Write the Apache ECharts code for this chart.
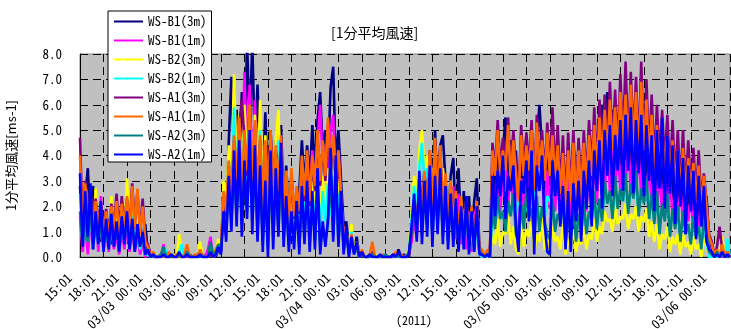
<!DOCTYPE html>
<html>
<head>
<meta charset="utf-8">
<script src="https://cdn.jsdelivr.net/npm/echarts@6/dist/echarts.min.js"></script>
<style>
  html, body { margin: 0; padding: 0; background: #fff; }
  #chart { width: 731px; height: 329px; }
</style>
</head>
<body>
<div id="chart"></div>
<script>
// 1-minute mean wind speed, sampled here every 20 minutes from 2011-03-02 15:01
const STEP_MIN = 20;
const TICK_MIN = 180;
const X_MAX = 4980;

const tickLabels = [
  '15:01', '18:01', '21:01', '03/03 00:01', '03:01', '06:01', '09:01', '12:01', '15:01', '18:01', '21:01',
  '03/04 00:01', '03:01', '06:01', '09:01', '12:01', '15:01', '18:01', '21:01',
  '03/05 00:01', '03:01', '06:01', '09:01', '12:01', '15:01', '18:01', '21:01', '03/06 00:01'
];

const seriesNames = ['WS-B1(3m)', 'WS-B1(1m)', 'WS-B2(3m)', 'WS-B2(1m)', 'WS-A1(3m)', 'WS-A1(1m)', 'WS-A2(3m)', 'WS-A2(1m)'];
const seriesColors = ['#000080', '#FF00FF', '#FFFF00', '#00FFFF', '#800080', '#FF6600', '#008080', '#0000FF'];

const wsB1_3m = [
  2.8, 0.9, 2.4, 3.5, 1.2, 2.8, 0.8, 1.8, 0.6, 1.6,
  0.7, 1.5, 0.5, 1.6, 0.8, 1.8, 0.6, 1.5, 0.9, 1.7,
  1.0, 1.9, 0.6, 1.5, 0.4, 1.3, 0.2, 0.1, 0.0, 0.0,
  0.0, 0.1, 0.0, 0.0, 0.0, 0.0, 0.1, 0.0, 0.0, 0.0,
  0.0, 0.0, 0.1, 0.0, 0.0, 0.0, 0.0, 0.1, 0.0, 0.0,
  0.1, 0.2, 0.0, 0.3, 0.2, 2.8, 1.5, 4.6, 7.1, 3.5,
  5.8, 3.2, 6.5, 4.0, 8.5, 5.0, 8.5, 4.2, 6.8, 3.6,
  3.0, 5.7, 2.6, 5.0, 2.8, 4.6, 3.0, 5.2, 2.2, 3.6,
  1.5, 2.8, 1.8, 2.4, 2.6, 4.6, 2.8, 4.4, 3.0, 5.2,
  3.5, 5.4, 6.5, 4.2, 5.0, 3.8, 6.7, 7.5, 3.6, 5.0,
  3.0, 1.2, 1.4, 0.4, 0.9, 0.3, 0.8, 0.0, 0.2, 0.0,
  0.0, 0.0, 0.1, 0.0, 0.0, 0.0, 0.0, 0.0, 0.0, 0.0,
  0.1, 0.0, 0.3, 0.0, 0.1, 0.0, 0.0, 0.8, 1.9, 1.2,
  3.2, 1.6, 3.6, 2.0, 4.2, 2.2, 5.0, 2.4, 4.4, 4.8,
  3.0, 1.4, 3.2, 3.9, 1.2, 3.5, 1.0, 2.6, 0.8, 2.4,
  0.6, 2.2, 3.1, 0.4, 0.2, 0.0, 0.1, 0.0, 3.8, 2.5,
  4.4, 2.8, 4.2, 5.5, 3.0, 4.6, 2.5, 4.2, 1.5, 4.0,
  2.6, 4.8, 2.8, 4.4, 2.0, 4.6, 6.0, 4.2, 2.5, 4.4,
  2.8, 4.6, 2.6, 4.2, 2.2, 4.0, 2.0, 4.3, 2.4, 4.6,
  2.2, 4.0, 2.4, 4.4, 2.6, 4.8, 2.8, 5.0, 3.0, 5.6,
  6.0, 3.2, 6.5, 3.4, 5.8, 3.2, 5.6, 3.6, 5.9, 3.8,
  6.0, 3.6, 5.8, 3.4, 5.5, 3.2, 5.2, 3.0, 4.8, 2.6,
  4.5, 2.6, 4.4, 2.4, 4.6, 2.2, 4.0, 2.2, 3.8, 2.0,
  3.8, 1.8, 3.6, 1.9, 3.3, 1.6, 3.2, 1.4, 2.8, 1.2,
  2.4, 0.6, 0.4, 0.0, 0.2, 0.0, 0.1, 0.0, 0.1, 0.0
];

const wsB1_1m = [
  1.6, 0.2, 1.2, 0.1, 1.5, 0.3, 2.0, 0.2, 2.4, 0.4,
  1.0, 0.2, 1.2, 0.3, 0.9, 0.1, 1.1, 0.3, 1.3, 0.2,
  1.1, 0.2, 0.9, 0.1, 0.6, 0.0, 0.1, 0.0, 0.0, 0.0,
  0.0, 0.0, 0.5, 0.0, 0.0, 0.0, 0.0, 0.0, 0.1, 0.0,
  0.0, 0.0, 0.0, 0.0, 0.0, 0.0, 0.1, 0.0, 0.0, 0.3,
  0.8, 0.0, 0.1, 0.6, 0.2, 2.0, 1.2, 3.4, 1.8, 6.7,
  2.6, 5.0, 3.0, 7.3, 3.6, 6.8, 3.0, 6.2, 2.6, 5.2,
  2.0, 4.2, 1.5, 4.8, 2.0, 4.0, 2.4, 4.6, 1.4, 3.0,
  1.0, 2.4, 1.4, 2.2, 1.8, 3.6, 2.0, 3.8, 2.2, 4.2,
  2.6, 4.6, 6.0, 3.6, 4.4, 3.2, 5.0, 5.6, 3.0, 4.2,
  2.2, 0.8, 1.0, 0.2, 0.6, 0.1, 0.4, 0.0, 0.1, 0.0,
  0.0, 0.0, 0.0, 0.0, 0.0, 0.0, 0.0, 0.0, 0.0, 0.0,
  0.0, 0.0, 0.1, 0.0, 0.0, 0.0, 0.1, 0.6, 1.4, 0.8,
  2.6, 1.0, 3.0, 1.3, 3.5, 1.5, 3.9, 1.6, 3.6, 1.4,
  2.6, 0.9, 2.4, 2.8, 0.7, 2.5, 0.5, 1.9, 0.3, 1.8,
  0.2, 1.6, 2.0, 0.1, 0.0, 0.0, 0.0, 0.0, 3.0, 1.8,
  3.4, 1.8, 3.3, 4.0, 2.0, 3.6, 1.8, 3.2, 0.5, 3.1,
  1.8, 3.8, 2.0, 3.4, 1.2, 3.6, 4.2, 3.2, 1.6, 3.4,
  1.9, 3.6, 1.8, 3.3, 1.5, 3.1, 1.3, 3.4, 1.6, 3.5,
  1.5, 3.1, 1.6, 3.4, 1.8, 3.7, 2.0, 3.9, 2.1, 4.3,
  4.6, 2.3, 4.9, 2.5, 4.5, 2.4, 4.3, 2.6, 4.6, 2.7,
  4.7, 2.6, 4.5, 2.5, 4.2, 2.4, 4.0, 2.2, 3.7, 1.9,
  3.4, 1.9, 3.3, 1.7, 3.5, 1.6, 3.0, 1.6, 2.8, 1.4,
  2.8, 1.3, 2.7, 1.4, 2.4, 1.1, 2.4, 1.0, 2.0, 0.8,
  1.7, 0.3, 0.2, 0.0, 0.1, 0.0, 0.0, 0.0, 0.0, 0.0
];

const wsB2_3m = [
  2.2, 0.6, 1.8, 0.9, 2.0, 0.5, 2.7, 0.8, 1.6, 0.4,
  1.4, 0.5, 2.4, 0.7, 1.6, 0.6, 1.5, 0.8, 3.1, 0.9,
  2.2, 0.6, 1.8, 0.5, 1.0, 0.2, 0.2, 0.0, 0.0, 0.0,
  0.0, 0.0, 0.0, 0.2, 0.0, 0.0, 0.1, 0.0, 0.9, 0.0,
  0.0, 0.5, 0.0, 0.0, 0.0, 0.1, 0.6, 0.0, 0.0, 0.0,
  0.3, 0.0, 0.2, 0.7, 0.4, 3.0, 2.2, 4.4, 3.0, 7.2,
  3.5, 5.6, 3.0, 6.0, 3.6, 5.4, 3.2, 5.6, 2.8, 6.2,
  2.2, 4.8, 1.8, 4.4, 2.4, 4.6, 5.8, 3.0, 1.8, 3.4,
  1.2, 2.8, 1.4, 2.6, 1.6, 3.4, 2.0, 3.6, 1.8, 3.2,
  1.6, 3.8, 1.4, 3.2, 1.8, 3.5, 2.0, 3.8, 1.7, 3.0,
  1.6, 0.8, 1.0, 0.4, 1.3, 0.2, 0.6, 0.1, 0.3, 0.0,
  0.0, 0.0, 0.0, 0.1, 0.0, 0.0, 0.0, 0.0, 0.0, 0.0,
  0.0, 0.0, 0.1, 0.0, 0.0, 0.0, 0.3, 1.8, 3.2, 2.4,
  4.2, 5.0, 3.4, 4.0, 2.6, 3.5, 2.4, 3.0, 2.0, 3.5,
  2.6, 1.2, 3.0, 1.0, 2.4, 0.8, 2.2, 0.9, 2.0, 0.4,
  1.5, 0.3, 1.6, 0.1, 0.1, 0.0, 0.0, 0.0, 1.0, 0.5,
  1.5, 0.4, 1.0, 0.9, 1.7, 0.5, 1.2, 0.3, 0.1, 1.3,
  0.4, 1.1, 0.8, 1.5, 0.2, 0.9, 0.6, 1.6, 0.3, 0.7,
  0.2, 1.2, 0.6, 0.8, 0.3, 1.3, 0.1, 0.7, 0.4, 1.1,
  0.2, 0.7, 0.5, 1.2, 0.3, 0.9, 0.7, 1.5, 0.6, 1.2,
  0.9, 1.8, 1.4, 1.5, 1.0, 2.0, 1.3, 1.6, 1.5, 2.1,
  1.1, 1.7, 1.5, 2.0, 1.0, 1.6, 1.4, 1.9, 0.8, 1.4,
  0.6, 1.3, 0.3, 0.9, 0.7, 1.2, 0.2, 0.8, 0.5, 0.9,
  0.1, 0.9, 0.4, 0.6, 0.1, 0.8, 0.3, 0.5, 0.0, 0.7,
  0.4, 0.0, 0.0, 0.0, 0.3, 0.0, 0.8, 0.0, 0.2, 0.0
];

const wsB2_1m = [
  2.5, 0.4, 1.6, 0.6, 1.8, 0.3, 1.5, 0.5, 1.4, 0.3,
  1.2, 0.3, 1.5, 0.5, 1.3, 0.4, 1.2, 0.6, 2.0, 0.5,
  1.6, 0.4, 1.3, 0.3, 0.8, 0.1, 0.1, 0.0, 0.0, 0.0,
  0.0, 0.0, 0.0, 0.3, 0.0, 0.0, 0.0, 0.0, 0.2, 0.5,
  0.0, 0.2, 0.0, 0.0, 0.0, 0.0, 0.3, 0.0, 0.0, 0.0,
  0.2, 0.0, 0.1, 0.5, 0.3, 2.6, 1.8, 3.8, 2.4, 5.9,
  2.8, 4.8, 2.4, 5.2, 3.0, 4.6, 2.6, 4.8, 2.2, 5.0,
  1.6, 4.0, 1.2, 3.8, 1.8, 4.0, 4.6, 2.4, 1.2, 2.8,
  0.8, 2.2, 1.0, 2.0, 1.2, 2.8, 1.5, 3.0, 1.3, 2.6,
  1.2, 3.2, 1.0, 2.6, 1.4, 2.9, 1.6, 3.2, 1.3, 2.5,
  1.2, 0.5, 0.8, 0.3, 1.0, 0.1, 0.4, 0.0, 0.2, 0.0,
  0.0, 0.0, 0.0, 0.0, 0.0, 0.0, 0.0, 0.0, 0.0, 0.0,
  0.0, 0.0, 0.0, 0.0, 0.0, 0.0, 0.2, 1.5, 2.8, 2.0,
  3.6, 4.5, 3.0, 3.5, 2.2, 3.0, 2.0, 2.6, 1.8, 3.0,
  2.2, 1.0, 2.6, 0.8, 2.0, 0.6, 1.8, 0.7, 1.6, 0.3,
  1.2, 0.2, 1.3, 0.1, 0.0, 0.0, 0.0, 0.0, 1.7, 1.4,
  2.0, 1.6, 1.6, 1.3, 2.0, 1.7, 2.2, 1.2, 2.6, 1.8,
  1.3, 2.2, 1.6, 1.8, 2.8, 2.0, 1.3, 1.9, 1.5, 2.4,
  2.2, 2.0, 1.2, 1.6, 1.5, 1.9, 2.0, 1.5, 1.0, 1.8,
  0.9, 1.6, 1.1, 1.9, 1.1, 1.7, 1.6, 2.3, 1.3, 2.0,
  1.6, 2.6, 2.1, 2.4, 1.7, 2.8, 2.0, 2.5, 2.2, 2.9,
  1.9, 2.6, 2.3, 2.9, 1.8, 2.5, 2.2, 2.7, 1.7, 2.3,
  1.4, 2.3, 1.1, 1.9, 1.5, 2.2, 1.0, 1.8, 1.2, 1.8,
  0.8, 1.6, 1.0, 1.3, 0.7, 1.4, 0.9, 1.2, 0.5, 1.3,
  0.6, 0.0, 0.0, 0.1, 0.0, 0.0, 0.2, 0.0, 0.7, 0.0
];

const wsA1_3m = [
  4.7, 1.4, 3.0, 1.2, 2.7, 1.0, 2.3, 1.4, 2.1, 1.0,
  1.9, 0.8, 2.1, 1.1, 2.5, 1.0, 2.4, 1.3, 2.3, 1.1,
  2.9, 1.2, 2.6, 1.0, 2.3, 0.7, 0.5, 0.1, 0.1, 0.0,
  0.0, 0.0, 0.1, 0.0, 0.1, 0.0, 0.0, 0.0, 0.0, 0.0,
  0.0, 0.3, 0.0, 0.0, 0.0, 0.1, 0.2, 0.0, 0.0, 0.0,
  0.1, 0.0, 0.2, 0.4, 0.3, 2.4, 1.6, 3.6, 2.0, 4.6,
  2.8, 5.2, 6.2, 4.6, 3.2, 5.8, 2.8, 5.2, 2.2, 4.6,
  1.8, 4.4, 1.5, 4.8, 2.0, 4.2, 2.4, 4.6, 1.6, 3.2,
  1.1, 3.3, 1.5, 2.7, 1.7, 3.8, 2.2, 4.0, 2.0, 3.8,
  2.6, 4.8, 2.8, 4.4, 3.0, 5.2, 3.3, 4.6, 2.8, 4.0,
  2.2, 0.7, 0.9, 0.2, 0.8, 0.2, 0.4, 0.0, 0.2, 0.0,
  0.0, 0.0, 0.2, 0.0, 0.0, 0.0, 0.0, 0.0, 0.0, 0.0,
  0.0, 0.1, 0.0, 0.0, 0.0, 0.0, 0.1, 0.9, 1.8, 1.3,
  2.8, 1.5, 3.2, 1.7, 4.0, 1.9, 4.5, 2.0, 4.3, 1.7,
  3.1, 1.1, 2.9, 0.9, 2.5, 0.7, 2.3, 0.8, 2.2, 0.4,
  1.9, 0.3, 2.0, 0.2, 0.2, 0.0, 0.2, 0.0, 4.5, 3.4,
  5.4, 3.5, 4.7, 3.6, 5.5, 3.3, 5.0, 3.5, 2.4, 5.2,
  3.4, 4.9, 3.6, 5.4, 2.8, 5.6, 3.7, 5.0, 3.2, 5.3,
  3.4, 5.9, 3.2, 5.2, 2.7, 4.8, 2.0, 4.9, 2.4, 5.0,
  2.4, 4.7, 2.6, 5.0, 3.0, 5.4, 3.4, 5.9, 3.6, 6.2,
  4.0, 6.4, 4.2, 6.9, 4.4, 6.6, 4.2, 7.2, 4.6, 7.7,
  4.4, 7.3, 4.6, 7.1, 4.2, 7.7, 4.4, 7.0, 4.0, 6.4,
  3.6, 6.0, 3.8, 5.8, 3.7, 5.6, 3.2, 5.4, 3.0, 5.0,
  2.8, 5.0, 2.6, 4.6, 2.7, 4.3, 2.4, 4.2, 2.2, 3.3,
  2.2, 0.9, 0.6, 0.1, 0.4, 1.2, 0.3, 0.0, 0.2, 0.0
];

const wsA1_1m = [
  4.0, 1.2, 2.9, 1.0, 2.6, 0.8, 2.2, 1.3, 2.0, 0.9,
  1.8, 0.7, 2.0, 1.0, 2.2, 0.9, 2.1, 1.2, 2.4, 1.0,
  2.8, 1.1, 2.7, 0.9, 2.0, 0.6, 0.4, 0.1, 0.2, 0.0,
  0.0, 0.1, 0.0, 0.0, 0.2, 0.0, 0.0, 0.1, 0.0, 0.0,
  0.1, 0.5, 0.0, 0.0, 0.1, 0.0, 0.3, 0.0, 0.0, 0.0,
  0.2, 0.0, 0.3, 0.5, 0.4, 2.6, 1.8, 3.8, 2.2, 4.8,
  3.0, 5.5, 2.6, 5.0, 3.4, 6.0, 3.0, 5.4, 2.4, 4.8,
  2.0, 4.6, 1.6, 5.0, 2.2, 4.4, 2.6, 4.8, 1.8, 3.4,
  1.2, 3.5, 1.6, 2.8, 1.8, 4.0, 2.4, 4.2, 2.2, 4.0,
  2.8, 5.0, 3.0, 4.6, 3.2, 5.5, 3.5, 4.8, 3.0, 4.2,
  2.4, 0.8, 1.0, 0.3, 0.9, 0.2, 0.5, 0.0, 0.3, 0.0,
  0.0, 0.1, 0.6, 0.0, 0.0, 0.0, 0.1, 0.0, 0.0, 0.0,
  0.0, 0.2, 0.0, 0.1, 0.0, 0.0, 0.2, 1.0, 2.0, 1.4,
  3.0, 1.6, 3.4, 1.8, 4.2, 2.0, 4.7, 2.2, 4.4, 1.8,
  3.3, 1.2, 3.0, 1.0, 2.6, 0.8, 2.4, 0.9, 2.3, 0.5,
  2.0, 0.4, 2.2, 0.3, 0.3, 0.0, 0.3, 0.1, 4.2, 3.2,
  5.0, 3.2, 4.2, 3.4, 5.2, 3.0, 4.6, 3.3, 2.2, 4.8,
  3.2, 4.4, 3.4, 5.0, 2.6, 5.3, 3.5, 4.6, 3.0, 4.9,
  3.2, 4.8, 3.0, 4.4, 2.5, 4.1, 1.8, 4.2, 2.2, 4.5,
  2.2, 4.2, 2.4, 4.5, 2.8, 4.8, 3.2, 5.2, 3.4, 5.5,
  3.8, 5.8, 4.0, 6.2, 4.2, 5.9, 4.0, 6.5, 4.4, 6.4,
  4.2, 6.8, 4.4, 6.5, 4.0, 6.9, 4.2, 6.2, 3.8, 5.6,
  3.4, 5.2, 3.6, 5.0, 3.5, 4.8, 3.0, 4.6, 2.8, 4.2,
  2.6, 4.3, 2.4, 3.9, 2.5, 3.7, 2.2, 3.6, 2.0, 3.2,
  2.0, 0.8, 0.5, 0.1, 0.3, 0.0, 0.5, 0.0, 0.2, 0.0
];

const wsA2_3m = [
  1.8, 0.5, 1.5, 0.6, 1.9, 0.4, 1.2, 0.6, 1.4, 0.3,
  1.2, 0.4, 1.3, 0.5, 1.1, 0.3, 1.4, 0.6, 1.5, 0.4,
  1.3, 0.3, 1.0, 0.5, 0.7, 0.1, 0.2, 0.0, 0.0, 0.0,
  0.0, 0.1, 0.4, 0.0, 0.0, 0.0, 0.0, 0.0, 0.1, 0.0,
  0.0, 0.2, 0.0, 0.0, 0.0, 0.0, 0.0, 0.0, 0.0, 0.0,
  0.6, 0.0, 0.2, 0.5, 0.3, 1.5, 1.0, 2.6, 1.4, 3.4,
  1.6, 3.6, 1.3, 3.2, 1.8, 3.9, 1.4, 3.5, 1.0, 3.0,
  0.6, 2.6, 0.4, 3.3, 0.7, 2.9, 1.0, 3.4, 0.8, 2.0,
  0.5, 1.6, 0.6, 1.9, 0.4, 2.2, 0.8, 2.4, 0.5, 2.1,
  0.6, 2.6, 0.4, 1.2, 0.6, 1.3, 3.2, 0.8, 3.0, 0.6,
  2.0, 0.3, 1.0, 0.1, 0.6, 0.2, 0.4, 0.0, 0.1, 0.0,
  0.0, 0.0, 0.1, 0.0, 0.0, 0.0, 0.0, 0.1, 0.0, 0.0,
  0.0, 0.1, 0.0, 0.0, 0.0, 0.0, 0.2, 1.0, 2.0, 1.0,
  2.8, 0.9, 2.5, 1.2, 2.9, 0.8, 2.6, 1.3, 2.8, 0.9,
  2.3, 0.6, 2.1, 0.7, 1.9, 0.5, 1.7, 0.6, 1.9, 0.4,
  1.5, 0.4, 1.6, 0.2, 0.1, 0.0, 0.1, 0.0, 2.0, 1.1,
  2.4, 1.5, 1.8, 1.0, 2.2, 1.6, 2.5, 0.9, 0.6, 2.1,
  1.1, 2.6, 1.6, 1.9, 0.7, 2.4, 1.0, 2.0, 1.4, 0.9,
  0.7, 2.3, 1.0, 1.7, 1.4, 2.1, 0.5, 1.6, 0.8, 2.0,
  0.6, 1.7, 1.0, 2.2, 0.9, 1.8, 1.5, 2.6, 1.1, 2.3,
  1.4, 3.0, 2.1, 2.6, 1.5, 3.2, 1.9, 2.7, 2.2, 3.3,
  1.7, 2.9, 2.3, 3.4, 1.6, 2.7, 2.1, 3.1, 1.5, 2.5,
  1.3, 2.6, 0.9, 2.1, 1.4, 2.5, 0.8, 1.9, 1.1, 2.0,
  0.6, 1.8, 0.9, 1.3, 0.5, 1.6, 0.8, 1.2, 0.3, 1.5,
  0.9, 0.2, 0.1, 0.0, 0.2, 0.0, 0.1, 0.0, 0.0, 0.0
];

const wsA2_1m = [
  3.3, 0.4, 2.6, 0.8, 2.9, 0.3, 1.8, 0.5, 2.2, 0.2,
  1.5, 0.3, 1.7, 0.4, 1.4, 0.2, 1.6, 0.5, 1.8, 0.3,
  1.5, 0.2, 1.3, 0.4, 1.0, 0.1, 0.3, 0.0, 0.1, 0.0,
  0.0, 0.0, 0.1, 0.0, 0.0, 0.1, 0.0, 0.0, 0.2, 0.0,
  0.0, 0.1, 0.0, 0.0, 0.0, 0.0, 0.1, 0.0, 0.0, 0.0,
  0.2, 0.0, 0.1, 0.4, 0.1, 1.8, 0.6, 3.2, 1.0, 4.2,
  1.2, 4.6, 0.8, 3.8, 1.5, 5.0, 0.9, 4.4, 0.6, 3.6,
  0.2, 3.0, 0.0, 4.2, 0.3, 3.5, 0.8, 4.5, 0.4, 2.4,
  0.2, 1.8, 0.3, 2.2, 0.1, 2.8, 0.5, 3.0, 0.2, 2.6,
  0.3, 3.5, 0.1, 1.4, 0.4, 1.5, 4.3, 0.6, 4.0, 0.4,
  2.6, 0.1, 1.2, 0.0, 0.8, 0.1, 0.6, 0.0, 0.2, 0.0,
  0.0, 0.1, 0.0, 0.0, 0.0, 0.1, 0.0, 0.0, 0.0, 0.0,
  0.1, 0.0, 0.2, 0.0, 0.0, 0.0, 0.1, 1.2, 2.5, 0.6,
  3.4, 0.5, 3.0, 0.8, 3.6, 0.4, 3.2, 0.9, 3.5, 0.5,
  2.8, 0.3, 2.5, 0.4, 2.3, 0.2, 2.0, 0.3, 2.4, 0.1,
  1.8, 0.2, 2.0, 0.1, 0.1, 0.0, 0.1, 0.0, 3.2, 1.6,
  3.4, 2.4, 4.0, 1.5, 3.2, 2.6, 3.6, 1.2, 0.2, 3.0,
  2.5, 3.8, 1.4, 4.2, 0.1, 3.6, 2.6, 4.0, 1.3, 0.2,
  0.1, 3.8, 2.4, 3.4, 1.2, 2.8, 0.3, 2.6, 0.2, 2.9,
  1.4, 3.0, 0.6, 3.4, 1.9, 3.8, 1.2, 4.2, 2.6, 4.6,
  1.9, 5.0, 3.2, 5.2, 2.4, 4.8, 3.4, 5.4, 2.6, 5.6,
  3.4, 5.9, 2.5, 5.4, 3.3, 5.6, 2.4, 5.2, 3.0, 4.8,
  1.8, 5.0, 2.7, 5.5, 1.9, 4.8, 2.5, 4.4, 1.3, 4.2,
  2.0, 3.9, 0.9, 3.6, 1.8, 3.4, 0.7, 3.2, 1.2, 2.8,
  0.6, 0.3, 0.2, 0.0, 0.1, 0.0, 0.2, 0.0, 0.1, 0.0
];

const seriesValues = [wsB1_3m, wsB1_1m, wsB2_3m, wsB2_1m, wsA1_3m, wsA1_1m, wsA2_3m, wsA2_1m];

const MONO = "'Noto Sans Mono CJK JP', 'DejaVu Sans Mono', 'Liberation Mono', monospace";
const JP = "'Noto Sans CJK JP', sans-serif";

const chart = echarts.init(document.getElementById('chart'), null, { renderer: 'canvas' });

const series = seriesNames.map((name, k) => ({
  name: name,
  type: 'line',
  data: seriesValues[k].map((v, i) => [i * STEP_MIN, v]),
  showSymbol: false,
  symbol: 'none',
  clip: true,
  color: seriesColors[k],
  lineStyle: { width: 2.6, color: seriesColors[k], join: 'bevel', cap: 'butt' },
  emphasis: { disabled: true },
  z: 2 + k
}));

chart.setOption({
  animation: false,
  backgroundColor: '#ffffff',
  title: {
    text: '[1分平均風速]',
    left: 326,
    top: 21,
    textStyle: { fontFamily: JP, fontSize: 14, fontWeight: 'normal', color: '#000' }
  },
  legend: {
    orient: 'vertical',
    left: 108,
    top: 11,
    data: seriesNames,
    icon: 'rect',
    itemWidth: 29,
    itemHeight: 2,
    itemGap: 4,
    padding: [3, 5, 0, 6],
    backgroundColor: '#ffffff',
    borderColor: '#000000',
    borderWidth: 1,
    borderRadius: 0,
    selectedMode: false,
    z: 20,
    textStyle: { fontFamily: MONO, fontSize: 13, color: '#000', lineHeight: 15 }
  },
  grid: {
    left: 80,
    top: 54,
    right: 1,
    bottom: 72,
    containLabel: false,
    outerBoundsMode: 'none',
    show: true,
    backgroundColor: '#C0C0C0',
    borderColor: '#808080',
    borderWidth: 1
  },
  xAxis: {
    type: 'value',
    min: 0,
    max: X_MAX,
    interval: TICK_MIN,
    axisLine: { show: true, lineStyle: { color: '#000', width: 1 } },
    axisTick: { show: true, inside: true, length: 4, lineStyle: { color: '#000' } },
    splitLine: { show: true, lineStyle: { color: '#000', type: [8, 5], width: 1 } },
    axisLabel: {
      rotate: 45,
      margin: 8,
      padding: [0, 15, 0, 0],
      fontFamily: MONO,
      fontSize: 13,
      color: '#000',
      showMaxLabel: false,
      formatter: function (v) {
        const k = Math.round(v / TICK_MIN);
        if (Math.abs(v - k * TICK_MIN) > 0.5) return '';
        return tickLabels[k] || '';
      }
    }
  },
  yAxis: {
    type: 'value',
    min: 0,
    max: 8,
    interval: 1,
    name: '1分平均風速[ms-1]',
    nameLocation: 'middle',
    nameGap: 62,
    nameRotate: 90,
    nameTextStyle: { fontFamily: JP, fontSize: 13, color: '#000' },
    axisLine: { show: true, lineStyle: { color: '#000', width: 1 } },
    axisTick: { show: true, inside: true, length: 4, lineStyle: { color: '#000' } },
    splitLine: { show: true, lineStyle: { color: '#000', type: [8, 5], width: 1 } },
    axisLabel: {
      margin: 18,
      fontFamily: MONO,
      fontSize: 13,
      color: '#000',
      formatter: function (v) { return v.toFixed(1); }
    }
  },
  graphic: [{
    type: 'text',
    left: 396,
    top: 314,
    style: { text: '(2011)', fontFamily: MONO, fontSize: 12, fill: '#000' }
  }],
  series: series
});
</script>
</body>
</html>
